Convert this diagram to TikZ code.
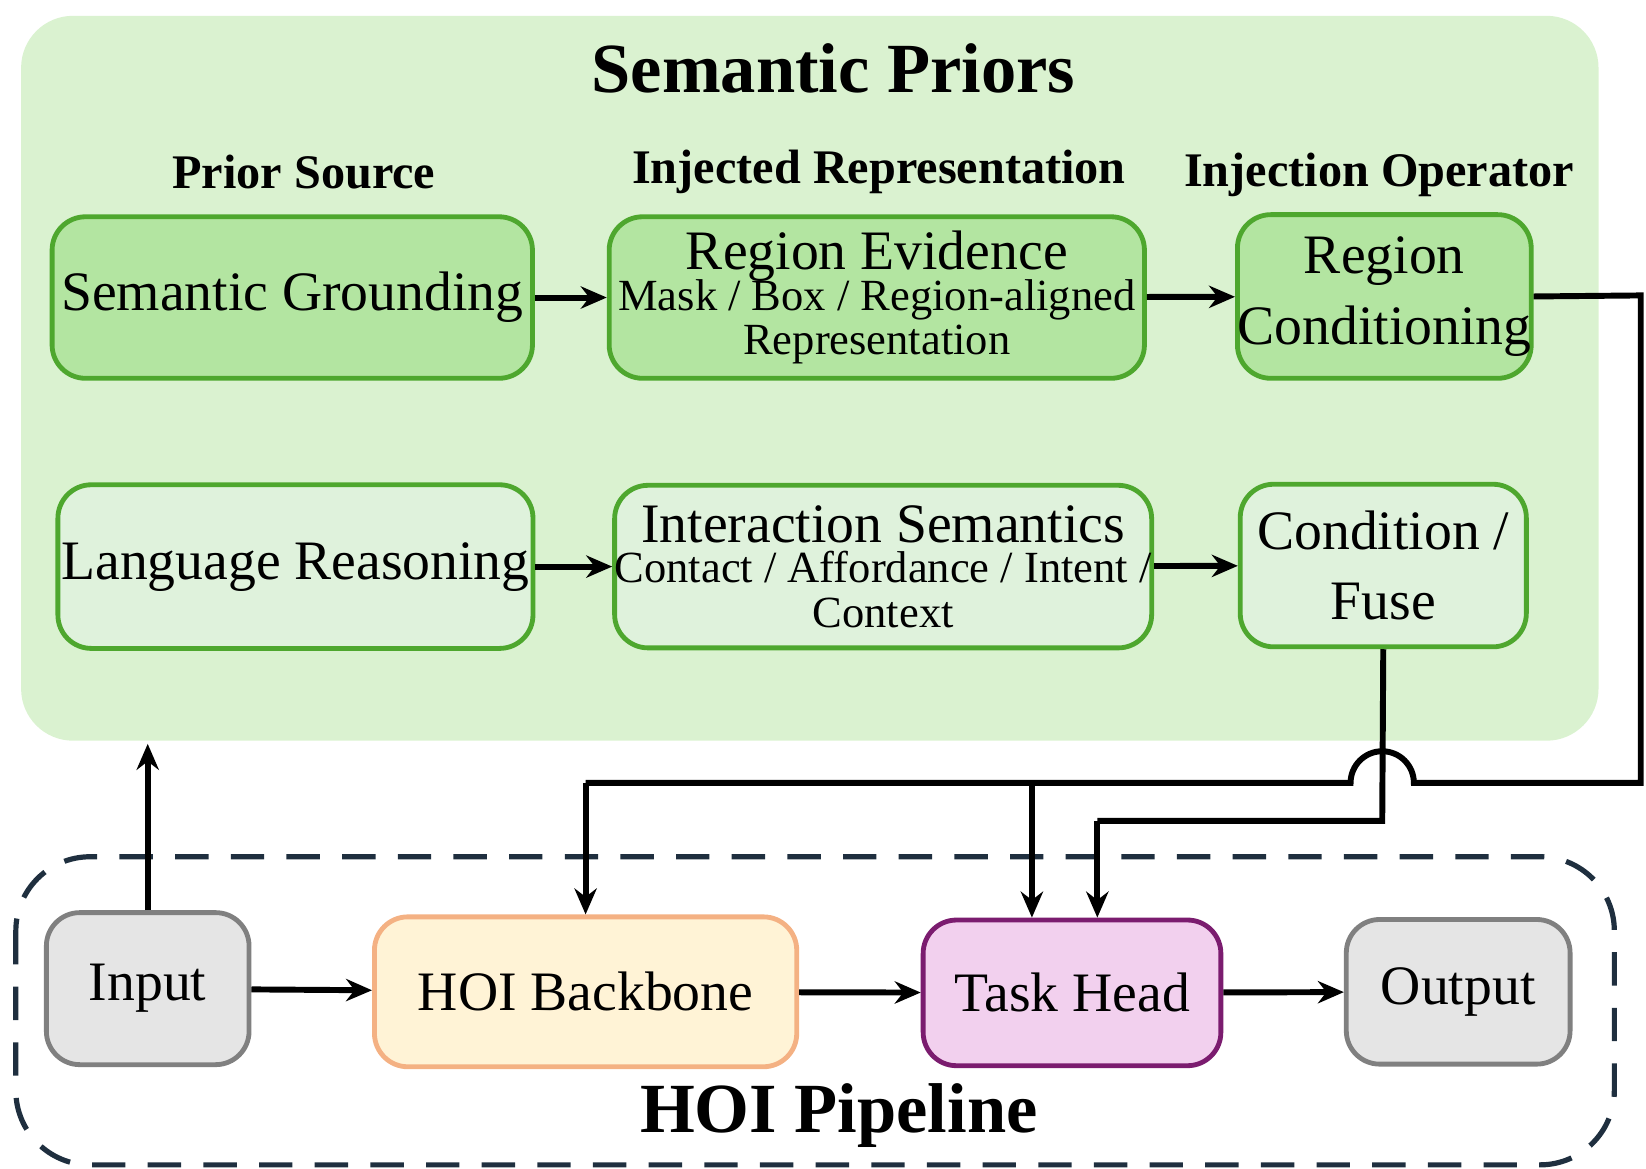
\documentclass[tikz,border=0pt]{standalone}
\usepackage{fontspec}
\setmainfont{Liberation Serif}
\usetikzlibrary{arrows.meta}
\definecolor{priorbg}{HTML}{DAF2D0}
\definecolor{darkgr}{HTML}{B3E5A1}
\definecolor{lightgr}{HTML}{DFF2DC}
\definecolor{gredge}{HTML}{4EA72E}
\definecolor{bbfill}{HTML}{FFF3D6}
\definecolor{bbedge}{HTML}{F4B183}
\definecolor{thfill}{HTML}{F2D0EE}
\definecolor{thedge}{HTML}{7B1C6F}
\definecolor{navy}{HTML}{1F2F3F}

\begin{document}
\begin{tikzpicture}[x=0.01cm,y=-0.01cm,
    box/.style ={draw, line width=1.3pt, rounded corners=9pt, align=center, inner sep=0pt},
    prior/.style ={box, draw=gredge, fill=darkgr},
    lang/.style ={box, draw=gredge, fill=lightgr},
    gray/.style ={box, draw=gray, fill=gray!20},
    header/.style ={font=\bfseries\fontsize{13}{15}\selectfont},
    link/.style ={line width=1.6pt, -{Stealth[length=7pt,width=6pt]}}]
   \useasboundingbox (0,0) rectangle (1560,1107);
   \fill[priorbg, rounded corners=14pt] (20,15) rectangle (1515,702);
   \draw[navy, line width=1.4pt, dash pattern=on 9pt off 6pt, rounded corners=20pt] (15,812) rectangle (1530,1104);

   \node[font=\bfseries\fontsize{19}{22}\selectfont] (title) at (790,65) {Semantic Priors};
   \node[header] (hsrc) at (288,163) {Prior Source};
   \node[header] (hrep) at (833,163) {Injected Representation};
   \node[header] (hop)  at (1307,166) {Injection Operator};

   \node[prior, minimum width=4.55cm, minimum height=1.53cm, font=\fontsize{15}{17}\selectfont] (SG) at (277,282) {Semantic Grounding};
   \node[prior, minimum width=5.07cm, minimum height=1.53cm] (RE) at (831,282)
      {{\fontsize{15}{17}\selectfont Region Evidence}\\[-1pt]{\fontsize{12}{15}\selectfont Mask / Box / Region-aligned}\\{\fontsize{12}{15}\selectfont Representation}};
   \node[prior, minimum width=2.69cm, minimum height=1.55cm, font=\fontsize{15}{19}\selectfont] (RC) at (1312,281) {Region\\Conditioning};

   \node[lang, minimum width=4.50cm, minimum height=1.55cm, font=\fontsize{15}{17}\selectfont] (LR) at (280,537) {Language Reasoning};
   \node[lang, minimum width=5.06cm, minimum height=1.54cm] (IS) at (837,537)
      {{\fontsize{15}{17}\selectfont Interaction Semantics}\\[-1pt]{\fontsize{12}{15}\selectfont Contact / Affordance / Intent /}\\{\fontsize{12}{15}\selectfont Context}};
   \node[lang, minimum width=2.71cm, minimum height=1.54cm, font=\fontsize{15}{19}\selectfont] (CF) at (1311,536) {Condition /\\Fuse};

   \node[gray, minimum width=1.92cm, minimum height=1.44cm, font=\fontsize{15}{17}\selectfont] (IN) at (140,937) {Input};
   \node[box, draw=bbedge, fill=bbfill, minimum width=4.00cm, minimum height=1.42cm, font=\fontsize{15}{17}\selectfont] (BB) at (555,940) {HOI Backbone};
   \node[box, draw=thedge, fill=thfill, minimum width=2.82cm, minimum height=1.38cm, font=\fontsize{15}{17}\selectfont] (TH) at (1016,941) {Task Head};
   \node[gray, minimum width=2.12cm, minimum height=1.37cm, font=\fontsize{15}{17}\selectfont] (OUT) at (1382,940) {Output};
   \node[font=\bfseries\fontsize{19}{22}\selectfont] (pipe) at (795,1057) {HOI Pipeline};

   \coordinate (ptop) at (140,705);
   \coordinate (r1) at (1555,280);
   \coordinate (r2) at (1555,742);
   \coordinate (r3) at (1340,742);
   \coordinate (r5) at (555,742);
   \coordinate (tap) at (978,742);
   \coordinate (c1) at (1310,778);
   \coordinate (c2) at (1040,778);

   \draw[link] (SG) -- (RE);
   \draw[link] (RE) -- (RC);
   \draw[link] (LR) -- (IS);
   \draw[link] (IS) -- (CF);
   \draw[link] (IN) -- (BB);
   \draw[link] (BB) -- (TH);
   \draw[link] (TH) -- (OUT);
   \draw[link] (IN.north) -- (ptop);

   \draw[line width=1.6pt] (RC.east) -- (r1) -- (r2) -- (r3) arc[start angle=0, end angle=-180, radius=30] -- (r5);
   \draw[link] (r5) -- (BB.north -| r5);
   \draw[link] (tap) -- (TH.north -| tap);
   \draw[line width=1.6pt] (CF.south) -- (c1) -- (c2);
   \draw[link] (c2) -- (TH.north -| c2);
 \end{tikzpicture}
\end{document}
